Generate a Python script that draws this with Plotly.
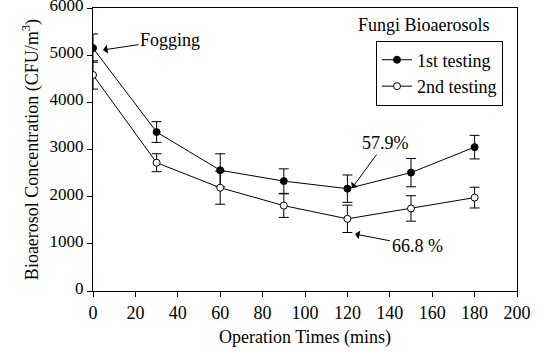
import plotly.graph_objects as go

times = [0, 30, 60, 90, 120, 150, 180]
first = [5150, 3370, 2560, 2330, 2170, 2510, 3050]
first_err = [300, 220, 350, 260, 290, 300, 250]
second = [4580, 2720, 2190, 1810, 1530, 1750, 1980]
second_err = [300, 190, 350, 250, 290, 270, 220]

FONT = "Liberation Serif, Times New Roman, DejaVu Serif, serif"
FS = 18

fig = go.Figure()
fig.add_trace(go.Scatter(
    x=times, y=first, name="1st testing", mode="lines+markers",
    line=dict(color="black", width=1),
    marker=dict(symbol="circle", size=7, color="black", line=dict(color="black", width=1)),
    error_y=dict(type="data", array=first_err, color="black", thickness=1, width=5),
))
fig.add_trace(go.Scatter(
    x=times, y=second, name="2nd testing", mode="lines+markers",
    line=dict(color="black", width=1),
    marker=dict(symbol="circle", size=7, color="white", line=dict(color="black", width=1)),
    error_y=dict(type="data", array=second_err, color="black", thickness=1, width=5),
))

fig.update_layout(
    width=540, height=353,
    margin=dict(l=93, r=23, t=8, b=62, autoexpand=False),
    paper_bgcolor="white", plot_bgcolor="white",
    font=dict(family=FONT, size=FS, color="black"),
    showlegend=True,
    legend=dict(x=0.967, y=0.885, xanchor="right", yanchor="top",
                bordercolor="black", borderwidth=1, bgcolor="white",
                font=dict(family=FONT, size=FS), tracegroupgap=0,
                itemwidth=30),
    xaxis=dict(range=[0, 200], dtick=20, tick0=0, ticks="outside", ticklen=5,
               tickcolor="black", showline=True, linecolor="black", linewidth=1,
               mirror=True, showgrid=False, zeroline=False, automargin=False,
               ticklabeloverflow="allow",
               title=dict(text="Operation Times (mins)", font=dict(size=FS), standoff=8)),
    yaxis=dict(range=[0, 6000], dtick=1000, tick0=0, ticks="outside", ticklen=5,
               tickcolor="black", showline=True, linecolor="black", linewidth=1,
               mirror=True, showgrid=False, zeroline=False, automargin=False,
               ticklabeloverflow="allow", ticklabelshift=-3,
               tickfont=dict(family=FONT, size=17),
               title=dict(text="Bioaerosol Concentration (CFU/m<sup>3</sup>)", font=dict(size=FS), standoff=6)),
)

fig.add_annotation(x=4.7, y=5110, xref="x", yref="y", text="Fogging",
                   showarrow=True, ax=67, ay=-10, arrowhead=1, arrowsize=1.5,
                   arrowwidth=1, arrowcolor="black", font=dict(size=FS))
fig.add_annotation(x=122.2, y=2184, xref="x", yref="y", text="57.9%",
                   showarrow=True, ax=33, ay=-45, arrowhead=1, arrowsize=1.5,
                   arrowwidth=1, arrowcolor="black", font=dict(size=FS))
fig.add_annotation(x=123.6, y=1208, xref="x", yref="y", text="66.8 %",
                   showarrow=True, ax=62, ay=12, arrowhead=1, arrowsize=1.5,
                   arrowwidth=1, arrowcolor="black", font=dict(size=FS))
fig.add_annotation(x=0.781, y=0.94, xref="paper", yref="paper", text="Fungi Bioaerosols",
                   showarrow=False, xanchor="center", yanchor="middle", font=dict(size=FS))

fig.write_html("out.html", config={"displayModeBar": False},
               post_script="document.body.style.margin='0';document.body.style.overflow='hidden';")
